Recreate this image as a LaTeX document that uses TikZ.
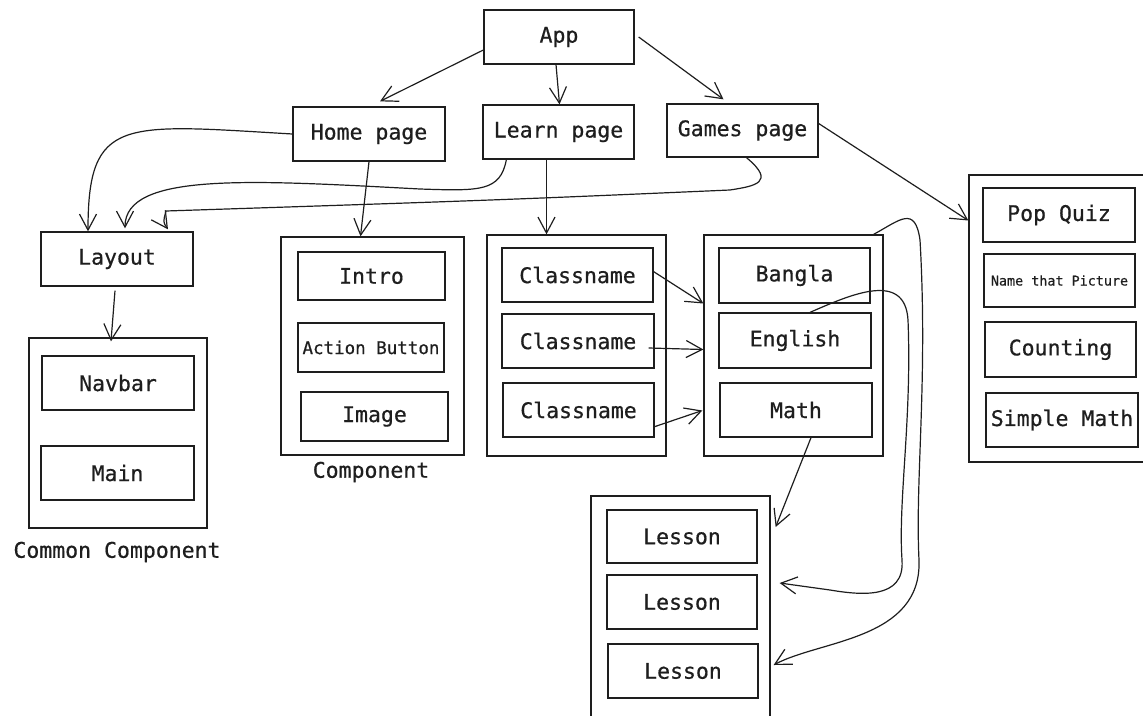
\documentclass[tikz,border=0pt]{standalone}
\usepackage{fontspec}
\usetikzlibrary{arrows.meta}
\newfontfamily\sketchfont[FakeBold=0.6]{DejaVu Sans Mono}
\definecolor{ink}{HTML}{1E1E1E}

\begin{document}
\begin{tikzpicture}[x=1pt, y=-1pt,
    ink, line width=1.3pt,
    font=\sketchfont\fontsize{21.5}{24}\selectfont,
    box/.style={draw=ink, rectangle, inner sep=0pt, minimum width=151, minimum height=54},
    panel/.style={draw=ink, rectangle, inner sep=0pt},
    smalltext/.style={font=\sketchfont\fontsize{17.5}{20}\selectfont},
    tinytext/.style={font=\sketchfont\fontsize{13.4}{16}\selectfont},
    arr/.style={-{Straight Barb[length=16pt, width=17pt]}, line width=1.2pt}]
\useasboundingbox (0, 0) rectangle (1143, 715);

% pages
\node[box, minimum width=150] (app) at (559, 37) {App};
\node[box, minimum width=152] (home) at (369, 134) {Home page};
\node[box] (learn) at (558.5, 132) {Learn page};
\node[box, minimum height=53] (games) at (742.5, 130.5) {Games page};

% common component
\node[box, minimum width=152] (layout) at (117, 259) {Layout};
\node[panel, minimum width=178, minimum height=190] (common) at (118, 433) {};
\node[box, minimum width=152] (navbar) at (118, 383) {Navbar};
\node[box, minimum width=153] (main) at (117.5, 473) {Main};
\node (commonlabel) at (117, 552) {Common Component};

% component
\node[panel, minimum width=183, minimum height=218] (comp) at (372.5, 346) {};
\node[box, minimum width=147, minimum height=48] (intro) at (371.5, 276) {Intro};
\node[box, smalltext, minimum width=146, minimum height=49] (action) at (371, 347.5) {Action Button};
\node[box, minimum width=147, minimum height=49] (image) at (374.5, 416.5) {Image};
\node (complabel) at (371, 472) {Component};

% classes and subjects
\node[panel, minimum width=179, minimum height=221] (classes) at (576.5, 345.5) {};
\node[box] (class1) at (577.5, 275) {Classname};
\node[box, minimum width=152] (class2) at (578, 341) {Classname};
\node[box] (class3) at (578.5, 410) {Classname};

\node[panel, minimum width=179, minimum height=221] (subjects) at (793.5, 345.5) {};
\node[box, minimum height=55] (bangla) at (794.5, 275.5) {Bangla};
\node[box, minimum width=152, minimum height=55] (english) at (795, 340.5) {English};
\node[box, minimum width=152] (math) at (796, 410) {Math};

% lessons
\node[panel, minimum width=179, minimum height=224] (lessons) at (680.5, 608) {};
\node[box, minimum width=150, minimum height=53] (lesson1) at (682, 536.5) {Lesson};
\node[box, minimum width=150] (lesson2) at (682, 602) {Lesson};
\node[box, minimum width=150] (lesson3) at (683, 671) {Lesson};

% games
\node[panel, minimum width=176, minimum height=287] (gamelist) at (1057, 318.5) {};
\node[box, minimum width=152] (popquiz) at (1059, 215) {Pop Quiz};
\node[box, tinytext, minimum height=53] (namepic) at (1059.5, 280.5) {Name that Picture};
\node[box, minimum height=55] (counting) at (1060.5, 349.5) {Counting};
\node[box, minimum width=152] (simplemath) at (1062, 420) {Simple Math};

% arrows
\draw[arr] ([yshift=-13]app.west) -- ([xshift=11, yshift=5]home.north);
\draw[arr] ([xshift=-3]app.south) -- ([xshift=1]learn.north);
\draw[arr] ([xshift=4]app.east) -- ([xshift=-19, yshift=4]games.north);

\draw[arr] (home.west) .. controls +(-170, -10) and +(0, -115) .. ([xshift=-29]layout.north);
\draw[arr] ([xshift=24]learn.south west) .. controls +(-6, 32) and +(60, 2) .. (420, 189)
    .. controls (250, 180) and (125, 172) .. ([xshift=8, yshift=3]layout.north);
\draw[arr] ([xshift=4]games.south) .. controls +(30, 25) and +(25, -4) .. (730, 190)
    .. controls (500, 200) .. (166, 211) .. controls (163, 222) .. ([xshift=51, yshift=2]layout.north);

\draw[arr] (home.south) -- ([xshift=-12]comp.north);
\draw[arr] ([xshift=-12]learn.south) -- ([xshift=-30]classes.north);
\draw[arr] ([yshift=7]games.east) -- ([yshift=98]gamelist.west);
\draw[arr] ([xshift=-2, yshift=-4]layout.south) -- ([xshift=-7, yshift=-4]common.north);

\draw[arr] ([xshift=-1, yshift=4]class1.east) -- ([yshift=42]subjects.west);
\draw[arr] ([xshift=-6, yshift=-7]class2.east) -- ([yshift=-4]subjects.west);
\draw[arr] ([xshift=-1, yshift=-17]class3.east) -- ([xshift=-1, yshift=-65]subjects.west);

\draw[arr] ([xshift=15]math.south) -- ([xshift=5, yshift=81]lessons.east);
\draw[arr] ([xshift=15]english.north) .. controls (850, 295) and (905, 270) .. (908, 320)
    .. controls (912, 420) and (898, 500) .. (902, 560)
    .. controls (905, 600) and (860, 595) .. (830, 590) -- ([xshift=9, yshift=25]lessons.east);
\draw[arr] ([xshift=-10]subjects.north east) .. controls (900, 220) and (915, 205) .. (920, 240)
    .. controls (928, 380) and (915, 480) .. (919, 560)
    .. controls (922, 640) and (820, 640) .. ([xshift=3, yshift=-57]lessons.east);
\end{tikzpicture}
\end{document}
